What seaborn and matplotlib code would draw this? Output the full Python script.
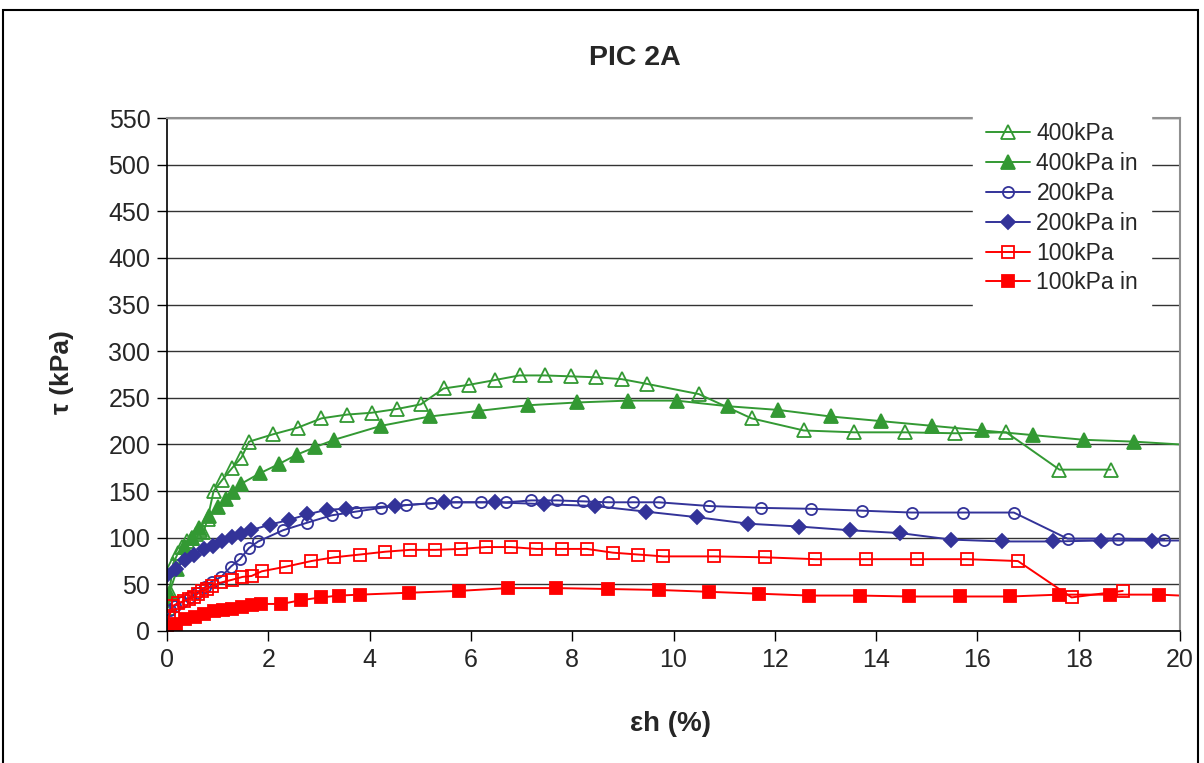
import numpy as np
import pandas as pd
import matplotlib
matplotlib.use("Agg")
import matplotlib.pyplot as plt
import seaborn as sns
from matplotlib.patches import Rectangle

# ---------------- data ----------------
x_400 = [0.02, 0.05, 0.12, 0.22, 0.30, 0.40, 0.50, 0.58, 0.65, 0.72, 0.80, 0.92, 1.09, 1.29, 1.47, 1.62,
         2.10, 2.58, 3.05, 3.55, 4.04, 4.54, 5.01, 5.46, 5.97, 6.47, 6.96, 7.46, 7.98, 8.47, 8.98, 9.47,
         10.50, 11.54, 12.57, 13.57, 14.57, 15.56, 16.57, 17.62, 18.63]
y_400 = [25, 42, 72, 84, 90, 96, 100, 104, 108, 106, 120, 150, 162, 175, 186, 203,
         211, 218, 228, 232, 234, 238, 243, 260, 264, 269, 274, 274, 273, 272, 270, 265,
         254, 228, 215, 213, 213, 212, 213, 173, 173]

x_400in = [0.04, 0.20, 0.35, 0.50, 0.64, 0.82, 1.00, 1.16, 1.31, 1.47, 1.83, 2.21, 2.56, 2.92, 3.30,
           4.23, 5.19, 6.16, 7.12, 8.09, 9.10, 10.06, 11.07, 12.07, 13.10, 14.10, 15.10, 16.10, 17.10,
           18.10, 19.10, 20.0]
y_400in = [40, 66, 90, 100, 110, 123, 133, 142, 149, 158, 169, 179, 189, 197, 205,
           220, 230, 236, 242, 245, 247, 247, 241, 237, 230, 225, 220, 215, 210,
           205, 203, 200]

x_200 = [0.00, 0.05, 0.15, 0.30, 0.45, 0.60, 0.75, 0.88, 1.07, 1.26, 1.44, 1.62, 1.80, 2.29, 2.76,
         3.25, 3.73, 4.22, 4.71, 5.21, 5.70, 6.20, 6.70, 7.19, 7.70, 8.21, 8.71, 9.21, 9.71, 10.70,
         11.72, 12.72, 13.72, 14.70, 15.72, 16.72, 17.78, 18.78, 19.69]
y_200 = [5, 23, 27, 31, 36, 41, 47, 53, 58, 69, 77, 89, 96, 108, 116,
         124, 128, 132, 135, 137, 138, 138, 138, 140, 140, 139, 138, 138, 138, 134,
         132, 131, 129, 127, 127, 127, 99, 99, 98]

x_200in = [0.00, 0.18, 0.35, 0.53, 0.73, 0.91, 1.09, 1.28, 1.47, 1.65, 2.03, 2.40, 2.77, 3.15, 3.53,
           4.50, 5.47, 6.47, 7.44, 8.45, 9.45, 10.47, 11.48, 12.48, 13.48, 14.47, 15.48, 16.49, 17.49,
           18.45, 19.45, 20.0]
y_200in = [60, 67, 76, 82, 88, 91, 96, 101, 104, 108, 114, 119, 125, 130, 131,
           134, 138, 138, 136, 134, 128, 122, 115, 112, 108, 105, 98, 96, 96,
           97, 97, 97]

x_100 = [0.00, 0.04, 0.12, 0.22, 0.33, 0.43, 0.53, 0.61, 0.70, 0.79, 0.88, 1.07, 1.29, 1.49, 1.67,
         1.87, 2.35, 2.85, 3.30, 3.81, 4.31, 4.80, 5.30, 5.80, 6.30, 6.79, 7.29, 7.79, 8.29, 8.80,
         9.30, 9.80, 10.80, 11.80, 12.80, 13.80, 14.80, 15.80, 16.80, 17.86, 18.87]
y_100 = [0, 16, 27, 30, 32, 34, 36, 40, 43, 45, 48, 52, 55, 58, 59,
         64, 69, 75, 79, 82, 85, 87, 87, 88, 90, 90, 88, 88, 88, 84,
         82, 80, 80, 79, 77, 77, 77, 77, 75, 36, 43]

x_100in = [0.00, 0.17, 0.36, 0.55, 0.73, 0.92, 1.11, 1.29, 1.48, 1.67, 1.85, 2.26, 2.64, 3.04, 3.40,
           3.81, 4.77, 5.77, 6.73, 7.69, 8.71, 9.71, 10.71, 11.68, 12.68, 13.68, 14.65, 15.65, 16.65,
           17.62, 18.61, 19.59, 20.0]
y_100in = [1, 8, 13, 15, 18, 21, 23, 24, 26, 28, 29, 29, 33, 36, 38,
           39, 41, 43, 46, 46, 45, 44, 42, 40, 38, 38, 37, 37, 37,
           39, 39, 39, 38]

labels = ["400kPa", "400kPa in", "200kPa", "200kPa in", "100kPa", "100kPa in"]
x_ticks = [0, 2, 4, 6, 8, 10, 12, 14, 16, 18, 20]
y_ticks = [0, 50, 100, 150, 200, 250, 300, 350, 400, 450, 500, 550]

GREEN = "#339933"
BLUE = "#333399"
RED = "#FF0000"

sns.set_theme(style="white")
plt.rcParams["font.family"] = ["Liberation Sans", "DejaVu Sans"]

fig = plt.figure(figsize=(12.04, 7.63), dpi=100)
ax = fig.add_axes([167 / 1204, 1 - 631 / 763, (1180 - 167) / 1204, (631 - 118) / 763])

series = [
    (x_400, y_400, labels[0], GREEN, "^", "none", 10.5),
    (x_400in, y_400in, labels[1], GREEN, "^", GREEN, 10.5),
    (x_200, y_200, labels[2], BLUE, "o", "none", 8),
    (x_200in, y_200in, labels[3], BLUE, "D", BLUE, 7.5),
    (x_100, y_100, labels[4], RED, "s", "none", 8),
    (x_100in, y_100in, labels[5], RED, "s", RED, 8.5),
]

for xs, ys, lab, col, mk, fc, ms in series:
    df = pd.DataFrame({"x": xs, "y": ys})
    n = len(xs)
    mev = list(range(n - 1)) if xs[-1] >= 20 else list(range(n))
    sns.lineplot(data=df, x="x", y="y", ax=ax, sort=False, estimator=None, color=col,
                 linewidth=1.4, marker=mk, markersize=ms, markerfacecolor=fc,
                 markeredgecolor=col, markeredgewidth=1.3, markevery=mev, label=lab)

ax.set_xlim(0, 20)
ax.set_ylim(0, 550)
ax.set_xticks(x_ticks)
ax.set_yticks(y_ticks)
ax.set_xticklabels([str(v) for v in x_ticks], fontsize=18)
ax.set_yticklabels([str(v) for v in y_ticks], fontsize=18)
ax.tick_params(axis="both", direction="out", length=7, width=1, color="black", pad=5,
               bottom=True, left=True)
ax.grid(axis="y", color="#333333", linewidth=1)
ax.set_axisbelow(True)
for s in ["left", "bottom"]:
    ax.spines[s].set_color("black")
    ax.spines[s].set_linewidth(1.2)
for s in ["top", "right"]:
    ax.spines[s].set_visible(True)
    ax.spines[s].set_color("#909090")
    ax.spines[s].set_linewidth(1.5)

ax.set_xlabel("")
ax.set_ylabel("")
fig.text(670 / 1204, 1 - 724 / 763, "εh (%)", fontsize=20, fontweight="bold",
         ha="center", va="center")
fig.text(62 / 1204, 1 - 372 / 763, "τ (kPa)", fontsize=19, fontweight="bold",
         ha="center", va="center", rotation=90)
fig.text(635 / 1204, 1 - 58 / 763, "PIC 2A", fontsize=20.5, fontweight="bold",
         ha="center", va="center")

leg = ax.legend(loc="upper left", bbox_to_anchor=((962 - 167) / (1180 - 167), 1.0 + 20 / 513),
                fontsize=16.5, frameon=True, facecolor="white", edgecolor="white",
                framealpha=1, labelspacing=0.3, handlelength=1.9, handletextpad=0.3,
                borderpad=0.55, fancybox=False)
leg.set_zorder(5)

fig.patches.append(Rectangle((3 / 1204, -0.05), 1195 / 1204, 1.05 - 10 / 763,
                             transform=fig.transFigure, fill=False, edgecolor="black",
                             linewidth=1.5, figure=fig))

fig.savefig("out.png", dpi=100, facecolor="white")
